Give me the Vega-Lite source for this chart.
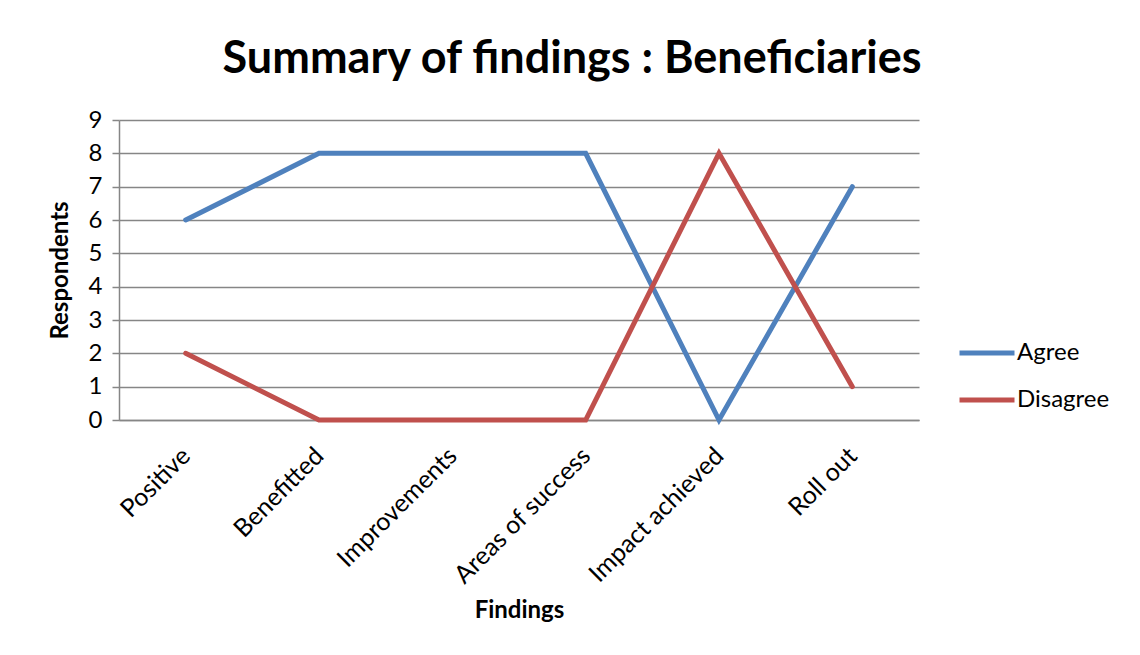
{
  "$schema": "https://vega.github.io/schema/vega-lite/v6.json",
  "width": 800,
  "height": 300,
  "autosize": {"type": "none"},
  "padding": {"left": 119, "top": 120, "right": 221, "bottom": 235},
  "background": "white",
  "title": {
    "text": "Summary of findings : Beneficiaries",
    "font": "Lato",
    "fontSize": 45,
    "fontWeight": "bold",
    "color": "#000000",
    "anchor": "middle",
    "frame": "group",
    "dx": 53,
    "offset": 26
  },
  "data": {
    "values": [
      {"finding": "Positive", "series": "Agree", "value": 6},
      {"finding": "Benefitted", "series": "Agree", "value": 8},
      {"finding": "Improvements", "series": "Agree", "value": 8},
      {"finding": "Areas of success", "series": "Agree", "value": 8},
      {"finding": "Impact achieved", "series": "Agree", "value": 0},
      {"finding": "Roll out", "series": "Agree", "value": 7},
      {"finding": "Positive", "series": "Disagree", "value": 2},
      {"finding": "Benefitted", "series": "Disagree", "value": 0},
      {"finding": "Improvements", "series": "Disagree", "value": 0},
      {"finding": "Areas of success", "series": "Disagree", "value": 0},
      {"finding": "Impact achieved", "series": "Disagree", "value": 8},
      {"finding": "Roll out", "series": "Disagree", "value": 1}
    ]
  },
  "mark": {"type": "line", "strokeWidth": 5, "strokeCap": "round", "strokeJoin": "miter"},
  "encoding": {
    "x": {
      "field": "finding",
      "type": "nominal",
      "sort": null,
      "scale": {"type": "band", "paddingInner": 0, "paddingOuter": 0},
      "axis": {
        "title": "Findings",
        "titleFont": "Lato",
        "titleFontSize": 24,
        "titleFontWeight": "bold",
        "titleColor": "#000000",
        "titleY": 178,
        "titleBaseline": "top",
        "labelAngle": -45,
        "labelAlign": "right",
        "labelBaseline": "top",
        "labelFont": "Lato",
        "labelFontSize": 25,
        "labelColor": "#000000",
        "labelPadding": 23,
        "labelOffset": -8,
        "labelLimit": 0,
        "ticks": false,
        "domainColor": "#868686",
        "domainWidth": 1.5,
        "grid": false
      }
    },
    "y": {
      "field": "value",
      "type": "quantitative",
      "scale": {"domain": [0, 9], "nice": false},
      "axis": {
        "title": "Respondents",
        "titleFont": "Lato",
        "titleFontSize": 24,
        "titleFontWeight": "bold",
        "titleColor": "#000000",
        "titlePadding": 16,
        "values": [0, 1, 2, 3, 4, 5, 6, 7, 8, 9],
        "labelFont": "Lato",
        "labelFontSize": 24,
        "labelColor": "#000000",
        "labelPadding": 10,
        "tickSize": 7,
        "tickColor": "#868686",
        "tickWidth": 1.5,
        "domainColor": "#868686",
        "domainWidth": 1.5,
        "grid": true,
        "gridColor": "#868686",
        "gridWidth": 1.5
      }
    },
    "color": {
      "field": "series",
      "type": "nominal",
      "scale": {"domain": ["Agree", "Disagree"], "range": ["#4F81BD", "#C0504D"]},
      "legend": {
        "title": null,
        "orient": "none",
        "legendX": 838,
        "legendY": 203,
        "symbolType": "stroke",
        "symbolSize": 3025,
        "symbolStrokeWidth": 5,
        "labelFont": "Lato",
        "labelFontSize": 24,
        "labelColor": "#000000",
        "labelOffset": 0,
        "rowPadding": 5
      }
    }
  },
  "config": {
    "view": {"stroke": null}
  }
}
